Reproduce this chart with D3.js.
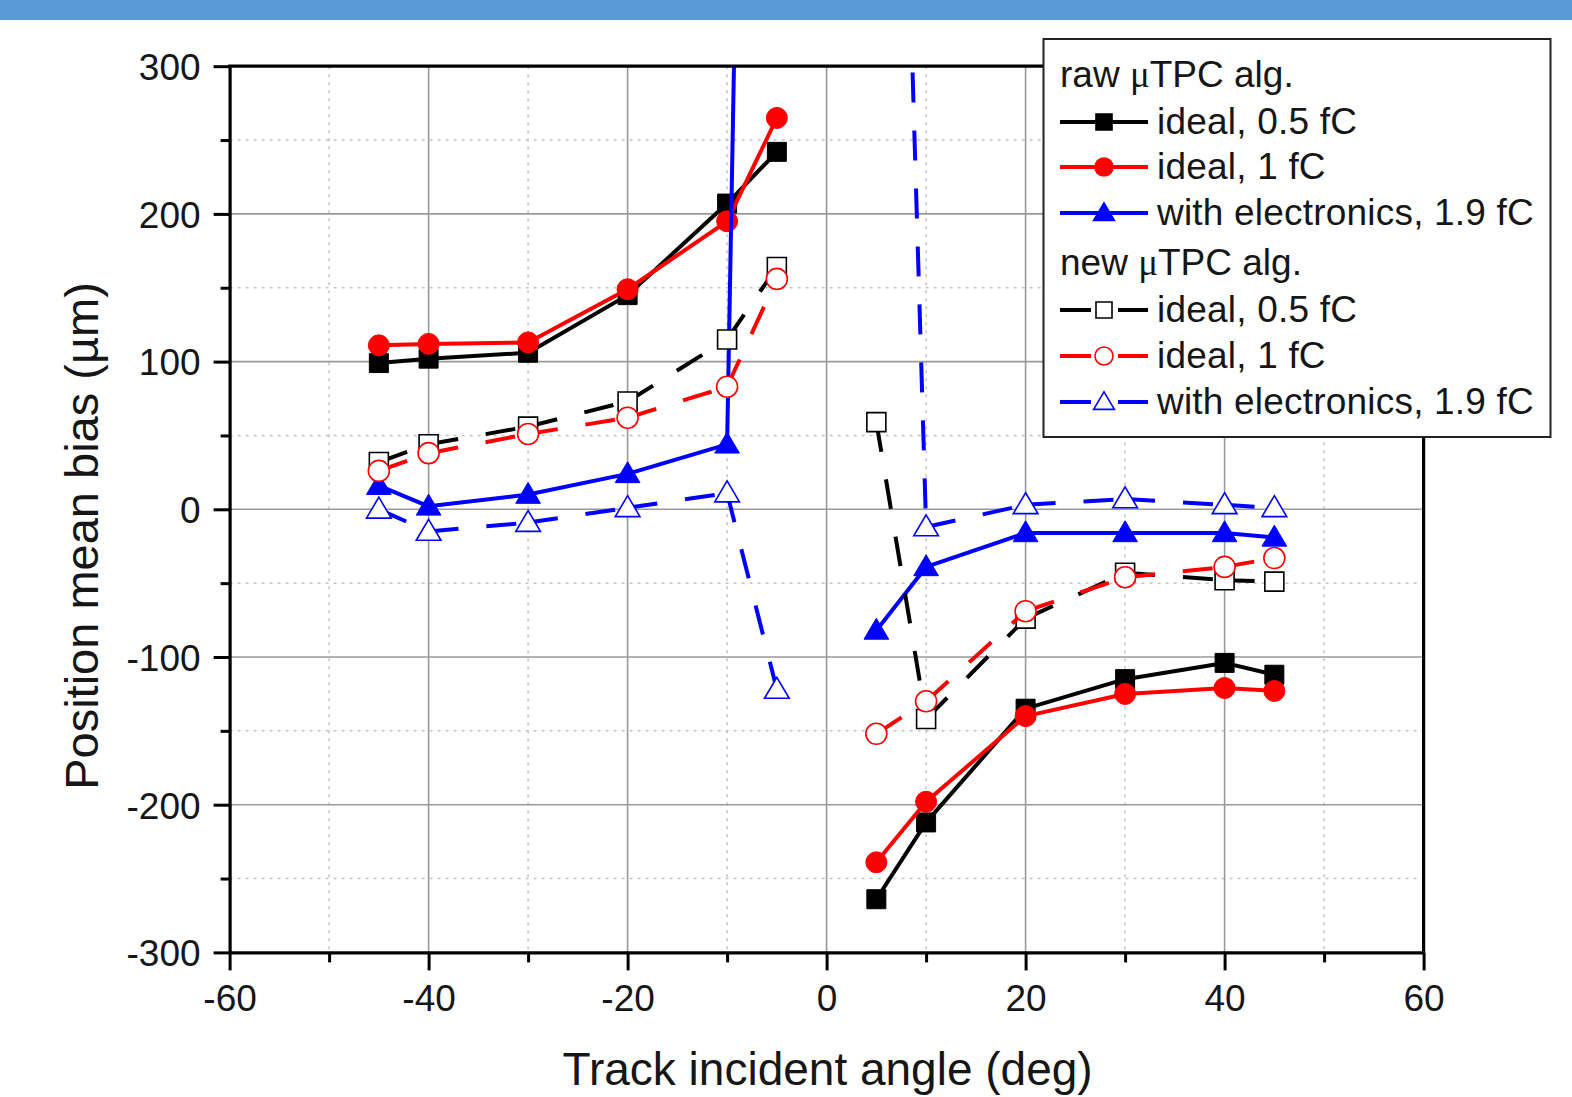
<!DOCTYPE html>
<html>
<head>
<meta charset="utf-8">
<script src="https://cdn.jsdelivr.net/npm/d3@7"></script>
<style>
  body { margin: 0; background: #fff; }
  text { font-family: "Liberation Sans", Arial, sans-serif; fill: #161616; }
</style>
</head>
<body>
<svg id="chart" width="1572" height="1097"></svg>
<script>
// track angles (deg); 0 is a gap, the two halves are not joined
var angles = [-45, -40, -30, -20, -10, -5, 0, 5, 10, 20, 30, 40, 45];

// raw uTPC alg.
var rawIdeal05 = [99, 102, 106, 145, 207, 242, null, -264, -212, -135, -115, -104, -112];
var rawIdeal1  = [111, 112, 113, 149, 195, 265, null, -239, -198, -140, -125, -121, -123];
var rawElec19  = [16, 2, 10, 24, 44, 1900, null, -82, -39, -16, -16, -16, -19];
// new uTPC alg.
var newIdeal05 = [32, 44, 56, 73, 115, 164, null, 59, -142, -74, -43, -48, -49];
var newIdeal1  = [26, 38, 51, 62, 83, 156, null, -152, -130, -69, -46, -39, -33];
var newElec19  = [0, -15, -9, 1, 11, -122, null, 1120, -12, 3, 7, 3, 1];

var xTicks = [-60, -40, -20, 0, 20, 40, 60];
var xMinor = [-50, -30, -10, 10, 30, 50];
var yTicks = [-300, -200, -100, 0, 100, 200, 300];
var yMinor = [-250, -150, -50, 50, 150, 250];

var series = [
  { name: "ideal, 0.5 fC", values: rawIdeal05, color: "#000", shape: "square", filled: true, dashed: false },
  { name: "ideal, 1 fC", values: rawIdeal1, color: "#f00", shape: "circle", filled: true, dashed: false },
  { name: "with electronics, 1.9 fC", values: rawElec19, color: "#00f", shape: "triangle", filled: true, dashed: false },
  { name: "ideal, 0.5 fC", values: newIdeal05, color: "#000", shape: "square", filled: false, dashed: true },
  { name: "ideal, 1 fC", values: newIdeal1, color: "#f00", shape: "circle", filled: false, dashed: true },
  { name: "with electronics, 1.9 fC", values: newElec19, color: "#00f", shape: "triangle", filled: false, dashed: true }
];

var svg = d3.select("#chart");
var pL = 229.6, pR = 1423.6, pT = 66.2, pB = 952.4;

var x = d3.scaleLinear().domain([-60, 60]).range([pL, pR]);
var y = d3.scaleLinear().domain([-300, 300]).range([pB, pT]);

// header strip
svg.append("rect").attr("x", 0).attr("y", 0).attr("width", 1572).attr("height", 20).attr("fill", "#5b9bd5");

svg.append("defs").append("clipPath").attr("id", "plotclip")
  .append("rect").attr("x", pL).attr("y", pT).attr("width", pR - pL).attr("height", pB - pT);

// grid
var grid = svg.append("g");
grid.selectAll(".gxm").data(xMinor).enter().append("line")
  .attr("x1", x).attr("x2", x).attr("y1", pT).attr("y2", pB)
  .attr("stroke", "#c4c4c4").attr("stroke-width", 1.5).attr("stroke-dasharray", "3,5");
grid.selectAll(".gym").data(yMinor).enter().append("line")
  .attr("y1", y).attr("y2", y).attr("x1", pL).attr("x2", pR)
  .attr("stroke", "#c4c4c4").attr("stroke-width", 1.5).attr("stroke-dasharray", "3,5");
grid.selectAll(".gx").data(xTicks.slice(1, -1)).enter().append("line")
  .attr("x1", x).attr("x2", x).attr("y1", pT).attr("y2", pB)
  .attr("stroke", "#9a9a9a").attr("stroke-width", 1.6);
grid.selectAll(".gy").data(yTicks.slice(1, -1)).enter().append("line")
  .attr("y1", y).attr("y2", y).attr("x1", pL).attr("x2", pR)
  .attr("stroke", "#9a9a9a").attr("stroke-width", 1.6);

function markerPath(shape, s) {
  if (shape == "square") {
    var h = s / 2;
    return "M" + (-h) + "," + (-h) + "H" + h + "V" + h + "H" + (-h) + "Z";
  }
  if (shape == "circle") {
    var r = s / 2 + 1;
    return "M" + (-r) + ",0A" + r + "," + r + " 0 1,0 " + r + ",0A" + r + "," + r + " 0 1,0 " + (-r) + ",0Z";
  }
  var w = s * 1.3, hh = s * 1.1;
  return "M0," + (-hh * 0.58) + "L" + (w / 2) + "," + (hh * 0.42) + "L" + (-w / 2) + "," + (hh * 0.42) + "Z";
}

var plot = svg.append("g").attr("clip-path", "url(#plotclip)");
var line = d3.line().x(function(d) { return x(d[0]); }).y(function(d) { return y(d[1]); });

series.forEach(function(s) {
  var g = plot.append("g");
  var pts = angles.map(function(a, i) { return [a, s.values[i]]; });
  var segs = [];
  for (var i = 0; i < pts.length - 1; i++) {
    if (pts[i][1] != null && pts[i + 1][1] != null) segs.push([pts[i], pts[i + 1]]);
  }
  g.selectAll("path.seg").data(segs).enter().append("path")
    .attr("class", "seg")
    .attr("d", line)
    .attr("fill", "none")
    .attr("stroke", s.color)
    .attr("stroke-width", 4)
    .attr("stroke-dasharray", s.dashed ? "30,28" : null);
  g.selectAll("path.mk").data(pts.filter(function(p) { return p[1] != null; })).enter().append("path")
    .attr("class", "mk")
    .attr("transform", function(p) { return "translate(" + x(p[0]) + "," + y(p[1]) + ")"; })
    .attr("d", markerPath(s.shape, 19))
    .attr("fill", s.filled ? s.color : "#fff")
    .attr("stroke", s.color)
    .attr("stroke-width", s.filled ? 1 : 1.6);
});

// axes
var xAxis = svg.append("g").attr("transform", "translate(0," + pB + ")")
  .call(d3.axisBottom(x).tickValues(xTicks).tickSize(18).tickSizeOuter(0).tickFormat(d3.format("d")));
svg.append("g").attr("transform", "translate(0," + pB + ")")
  .call(d3.axisBottom(x).tickValues(xMinor).tickSize(10).tickSizeOuter(0).tickFormat(""))
  .select(".domain").remove();
var yAxis = svg.append("g").attr("transform", "translate(" + pL + ",0)")
  .call(d3.axisLeft(y).tickValues(yTicks).tickSize(16).tickSizeOuter(0).tickFormat(d3.format("d")));
svg.append("g").attr("transform", "translate(" + pL + ",0)")
  .call(d3.axisLeft(y).tickValues(yMinor).tickSize(9).tickSizeOuter(0).tickFormat(""))
  .select(".domain").remove();

svg.selectAll(".domain").attr("stroke", "#000").attr("stroke-width", 3.2);
svg.selectAll(".tick line").attr("stroke", "#000").attr("stroke-width", 3);
xAxis.selectAll("text").attr("y", 59).attr("dy", 0).attr("font-size", 37).attr("fill", "#161616")
  .text(function(d) { return d < 0 ? "-" + Math.abs(d) : d; });
yAxis.selectAll("text").attr("x", -29).attr("dy", "0.36em").attr("font-size", 37).attr("fill", "#161616")
  .text(function(d) { return d < 0 ? "-" + Math.abs(d) : d; });

// top and right frame
svg.append("line").attr("x1", pL - 1.5).attr("x2", pR + 1.5).attr("y1", pT).attr("y2", pT)
  .attr("stroke", "#000").attr("stroke-width", 3.2);
svg.append("line").attr("x1", pR).attr("x2", pR).attr("y1", pT).attr("y2", pB)
  .attr("stroke", "#000").attr("stroke-width", 3.2);

// axis titles
svg.append("text").attr("x", (pL + pR) / 2 + 1).attr("y", 1085)
  .attr("text-anchor", "middle").attr("font-size", 46)
  .text("Track incident angle (deg)");
svg.append("text").attr("transform", "translate(98," + 536 + ") rotate(-90)")
  .attr("text-anchor", "middle").attr("font-size", 47)
  .text("Position mean bias (\u00b5m)");

// legend
var lg = svg.append("g");
lg.append("rect").attr("x", 1043.5).attr("y", 39).attr("width", 507).attr("height", 398)
  .attr("fill", "#fff").attr("stroke", "#222").attr("stroke-width", 2);

function header(yb, word) {
  var t = lg.append("text").attr("x", 1060).attr("y", yb).attr("font-size", 37);
  t.append("tspan").text(word + " ");
  t.append("tspan").attr("font-family", "Liberation Serif").text("\u03bc");
  t.append("tspan").text("TPC alg.");
}
header(87, "raw");
header(275, "new");

var rowY = [122, 167, 213, 310, 356, 402];
series.forEach(function(s, i) {
  var cy = rowY[i];
  var g = lg.append("g");
  [[1060, 1091], [1118, 1148]].forEach(function(p) {
    g.append("line").attr("x1", p[0]).attr("x2", p[1]).attr("y1", cy).attr("y2", cy)
      .attr("stroke", s.color).attr("stroke-width", 4);
  });
  if (s.filled) {
    g.append("line").attr("x1", 1091).attr("x2", 1118).attr("y1", cy).attr("y2", cy)
      .attr("stroke", s.color).attr("stroke-width", 4);
  }
  g.append("path").attr("transform", "translate(1104," + cy + ")")
    .attr("d", markerPath(s.shape, 16))
    .attr("fill", s.filled ? s.color : "#fff")
    .attr("stroke", s.color).attr("stroke-width", 1.6);
  g.append("text").attr("x", 1157).attr("y", cy + 12).attr("font-size", 37)
    .attr("letter-spacing", 0.2).text(s.name);
});
</script>
</body>
</html>
